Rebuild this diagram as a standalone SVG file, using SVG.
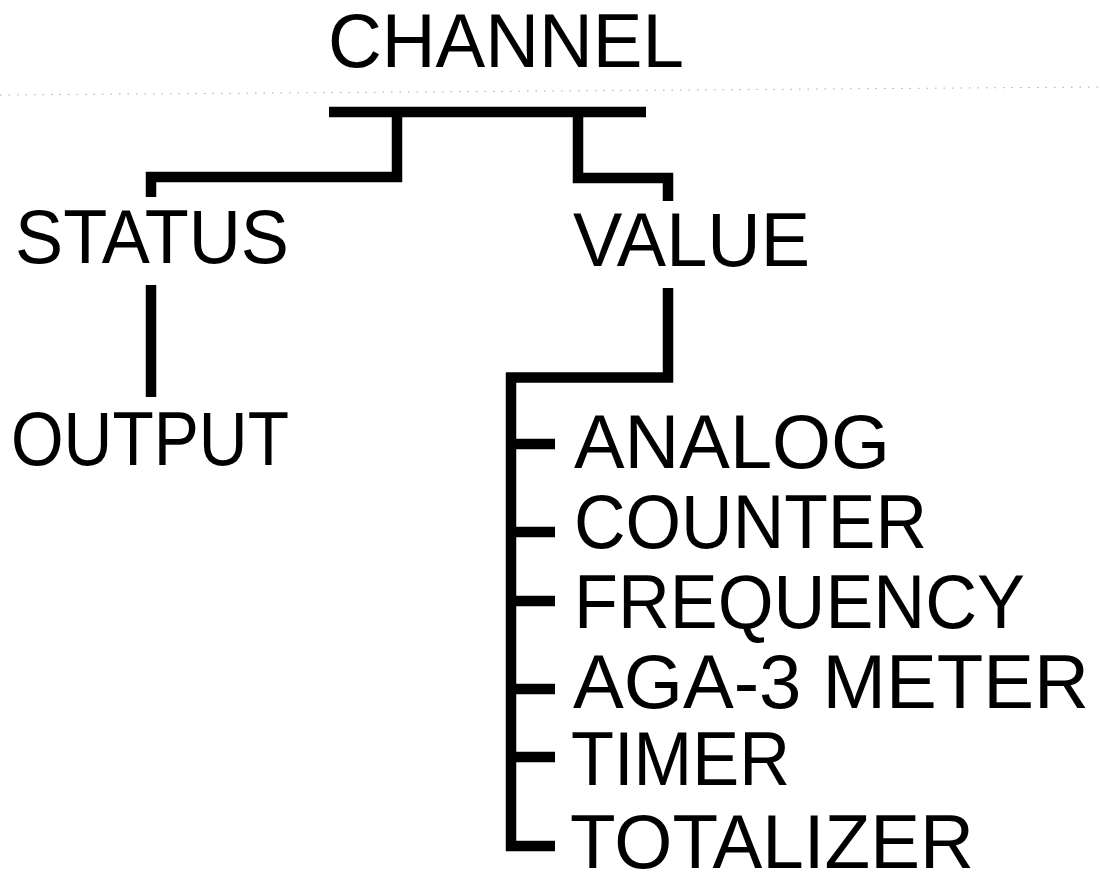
<svg xmlns="http://www.w3.org/2000/svg" width="1100" height="874" viewBox="0 0 1100 874">
<style>
text{font-family:"Liberation Sans",Arial,Helvetica,sans-serif;font-size:76px;fill:#000;}
.c{fill:none;stroke:#000;stroke-width:10.5;stroke-linecap:butt;stroke-linejoin:miter;}
.dot{fill:none;stroke:#aaa;stroke-width:1;stroke-dasharray:1.5 7;}
</style>
<rect width="1100" height="874" fill="#fff"/>
<line class="dot" x1="0" y1="95" x2="1100" y2="87"/>
<g id="connectors">
<path class="c" d="M329,112 H646"/>
<path class="c" d="M397,112 V177 H146"/>
<path class="c" d="M151,172 V197"/>
<path class="c" d="M578,112 V178 H673"/>
<path class="c" d="M668,173 V201"/>
<path class="c" d="M151,285 V397"/>
<path class="c" d="M668,288 V377.5 H506"/>
<path class="c" d="M511,373 V846 H555"/>
<path class="c" d="M511,444 H555 M511,532 H555 M511,601 H555 M511,689 H555 M511,757 H555"/>
</g>
<g id="channel"><text x="328" y="67" textLength="356" lengthAdjust="spacingAndGlyphs">CHANNEL</text></g>
<g id="status"><text x="15" y="263" textLength="274" lengthAdjust="spacingAndGlyphs">STATUS</text></g>
<g id="output"><text x="11" y="465" textLength="278" lengthAdjust="spacingAndGlyphs">OUTPUT</text></g>
<g id="value"><text x="573" y="266" textLength="237" lengthAdjust="spacingAndGlyphs">VALUE</text></g>
<g id="analog"><text x="574" y="468" textLength="316" lengthAdjust="spacingAndGlyphs">ANALOG</text></g>
<g id="counter"><text x="574" y="548" textLength="353" lengthAdjust="spacingAndGlyphs">COUNTER</text></g>
<g id="frequency"><text x="574" y="628" textLength="451" lengthAdjust="spacingAndGlyphs">FREQUENCY</text></g>
<g id="aga3"><text x="573" y="708" textLength="516" lengthAdjust="spacingAndGlyphs">AGA-3 METER</text></g>
<g id="timer"><text x="571" y="785" textLength="219" lengthAdjust="spacingAndGlyphs">TIMER</text></g>
<g id="totalizer"><text x="570" y="868" textLength="404" lengthAdjust="spacingAndGlyphs">TOTALIZER</text></g>
</svg>
